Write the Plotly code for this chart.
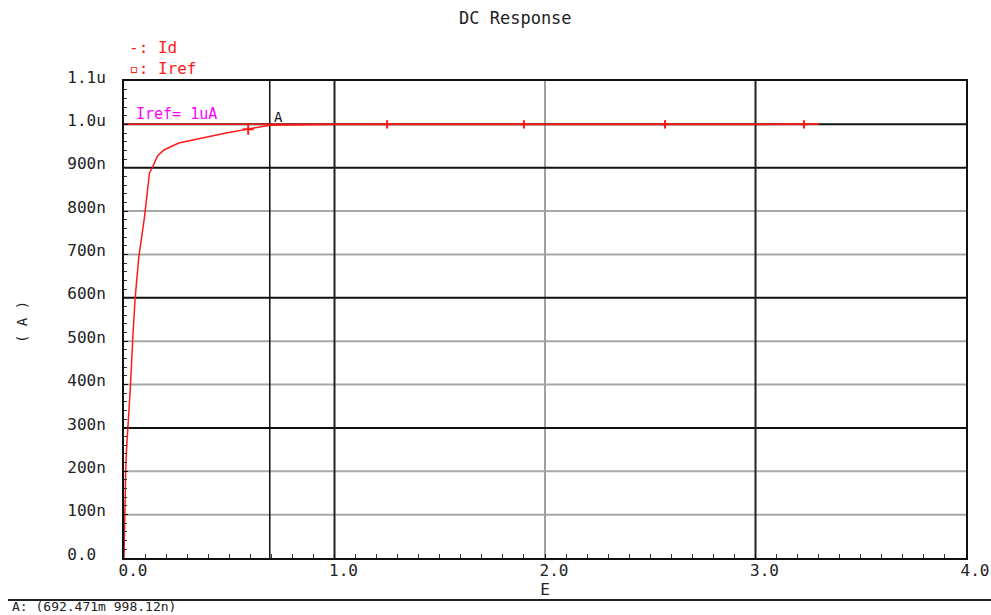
import plotly.graph_objects as go

# ---- data ----
id_x = [0.0, 0.002, 0.004, 0.008, 0.012, 0.021, 0.031, 0.042, 0.053, 0.070, 0.097,
        0.121, 0.134, 0.16, 0.19, 0.26, 0.37, 0.485, 0.587, 0.692471, 1.0, 2.0, 3.3]
id_y = [0.0, 50e-9, 150e-9, 200e-9, 250e-9, 310e-9, 400e-9, 509e-9, 600e-9, 693e-9, 785e-9,
        888e-9, 900e-9, 928e-9, 941e-9, 957e-9, 969e-9, 980e-9, 989e-9, 998.12e-9, 999.6e-9,
        1000e-9, 1000e-9]
iref_x = [0.0, 3.3]
iref_y = [1.0e-6, 1.0e-6]
id_marker_x = [0.59]
id_marker_y = [989e-9]
iref_marker_x = [1.25, 1.9, 2.57, 3.23]
iref_marker_y = [1.0e-6, 1.0e-6, 1.0e-6, 1.0e-6]
cursor_x = 0.692471
cursor_y = 998.12e-9

y_tickvals = [0, 100e-9, 200e-9, 300e-9, 400e-9, 500e-9, 600e-9, 700e-9, 800e-9, 900e-9, 1.0e-6, 1.1e-6]
y_ticktext = ["0.0\u00a0", "100n", "200n", "300n", "400n", "500n", "600n", "700n", "800n", "900n", "1.0u", "1.1u"]
x_tickvals = [0, 1, 2, 3, 4]
x_ticktext = ["0.0", "1.0", "2.0", "3.0", "4.0"]
major_y = [300e-9, 600e-9, 900e-9, 1.0e-6]
minor_y = [100e-9, 200e-9, 400e-9, 500e-9, 700e-9, 800e-9]
major_x = [1.0, 3.0]
minor_x = [2.0]

MONO = "DejaVu Sans Mono"
RED = "#ff1a1a"

fig = go.Figure()
fig.add_trace(go.Scatter(x=iref_x, y=iref_y, mode="lines", name="Iref",
                         line=dict(color=RED, width=1.5), showlegend=False))
fig.add_trace(go.Scatter(x=id_x, y=id_y, mode="lines", name="Id",
                         line=dict(color=RED, width=1.5), showlegend=False))
fig.add_trace(go.Scatter(x=id_marker_x, y=id_marker_y, mode="markers", showlegend=False,
                         marker=dict(symbol="cross-thin", size=8, line=dict(color=RED, width=2))))
fig.add_trace(go.Scatter(x=iref_marker_x, y=iref_marker_y, mode="markers", showlegend=False,
                         marker=dict(symbol="cross-thin", size=6, line=dict(color=RED, width=2))))

shapes = []
for v in minor_y:
    shapes.append(dict(type="line", xref="paper", yref="y", x0=0, x1=1, y0=v, y1=v,
                       line=dict(color="#a8a8a8", width=2), layer="below"))
for v in minor_x:
    shapes.append(dict(type="line", xref="x", yref="paper", x0=v, x1=v, y0=0, y1=1,
                       line=dict(color="#a0a0a0", width=2), layer="below"))
for v in major_y:
    shapes.append(dict(type="line", xref="paper", yref="y", x0=0, x1=1, y0=v, y1=v,
                       line=dict(color="#111111", width=2), layer="below"))
for v in major_x:
    shapes.append(dict(type="line", xref="x", yref="paper", x0=v, x1=v, y0=0, y1=1,
                       line=dict(color="#222222", width=2), layer="below"))
# cursor line
shapes.append(dict(type="line", xref="x", yref="paper", x0=cursor_x, x1=cursor_x, y0=0, y1=1,
                   line=dict(color="#111111", width=1.5), layer="below"))
# separator line at bottom
shapes.append(dict(type="line", xref="paper", yref="paper", x0=-116 / 842, x1=867 / 842,
                   y0=-42 / 477, y1=-42 / 477, line=dict(color="#222222", width=2)))

annotations = [
    dict(text="DC Response", xref="paper", yref="paper", x=(515 - 124) / 842, y=(558 - 18) / 477,
         showarrow=False, font=dict(family=MONO, size=17, color="#222222"), xanchor="center", yanchor="middle"),
    dict(text="-: Id", xref="paper", yref="paper", x=(127 - 124) / 842, y=(558 - 47) / 477,
         showarrow=False, font=dict(family=MONO, size=16, color=RED), xanchor="left", yanchor="middle"),
    dict(text="\u25ab: Iref", xref="paper", yref="paper", x=(127 - 124) / 842, y=(558 - 68) / 477,
         showarrow=False, font=dict(family=MONO, size=16, color=RED), xanchor="left", yanchor="middle"),
    dict(text="Iref= 1uA", xref="paper", yref="y", x=(134 - 124) / 842, y=1.0e-6,
         yshift=10, showarrow=False, font=dict(family=MONO, size=15, color="#ff00ff"),
         xanchor="left", yanchor="middle"),
    dict(text="A", xref="x", yref="y", x=cursor_x, y=cursor_y, xshift=2, yshift=8,
         showarrow=False, font=dict(family=MONO, size=14, color="#111111"),
         xanchor="left", yanchor="middle"),
    dict(text="( A )", xref="paper", yref="paper", x=(22 - 124) / 842, y=(558 - 322) / 477,
         textangle=-90, showarrow=False, font=dict(family=MONO, size=14, color="#222222"),
         xanchor="center", yanchor="middle"),
    dict(text="A: (692.471m 998.12n)", xref="paper", yref="paper", x=(10 - 124) / 842, y=(558 - 606) / 477,
         showarrow=False, font=dict(family=MONO, size=13, color="#222222"),
         xanchor="left", yanchor="middle"),
]

fig.update_layout(
    width=991, height=615, autosize=False,
    margin=dict(l=124, r=25, t=81, b=57),
    paper_bgcolor="white", plot_bgcolor="white",
    shapes=shapes, annotations=annotations, showlegend=False,
    xaxis=dict(range=[0, 4], tickvals=x_tickvals, ticktext=x_ticktext, automargin=False,
               showgrid=False,
               showline=True, linecolor="#111111", linewidth=2, mirror=True,
               ticks="inside", ticklen=4, tickcolor="#111111",
               minor=dict(dtick=0.1, ticks="inside", ticklen=4, tickcolor="#333333", showgrid=False),
               tickfont=dict(family=MONO, size=16, color="#222222"),
               ticklabelshift=9, ticklabelstandoff=-3,
               title=dict(text="E", font=dict(family=MONO, size=16, color="#222222"), standoff=0),
               zeroline=False),
    yaxis=dict(range=[0, 1.1e-6], tickvals=y_tickvals, ticktext=y_ticktext, automargin=False,
               showgrid=False,
               showline=True, linecolor="#111111", linewidth=2, mirror=True,
               ticks="inside", ticklen=4, tickcolor="#111111",
               minor=dict(dtick=20e-9, ticks="inside", ticklen=3, tickcolor="#333333", showgrid=False),
               tickfont=dict(family=MONO, size=16, color="#222222"),
               ticklabelshift=-4, ticklabelstandoff=13,
               zeroline=False),
)

fig.write_html("out.html")
